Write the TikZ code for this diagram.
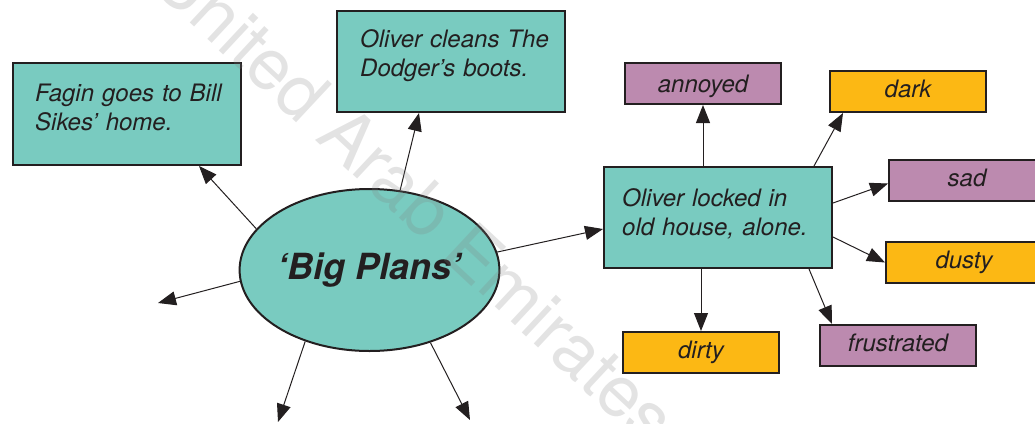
\documentclass[tikz,border=0pt]{standalone}
\usepackage{fontspec}
\setmainfont{TeX Gyre Heros}
\usetikzlibrary{arrows.meta,shapes.geometric}
\definecolor{tealfill}{HTML}{79CBC0}
\definecolor{purpfill}{HTML}{BC8AAF}
\definecolor{orangefill}{HTML}{FCB814}
\definecolor{ink}{HTML}{231F20}
\begin{document}
\begin{tikzpicture}[x=1pt,y=-1pt,
  bigbox/.style={draw=ink,line width=2pt,fill=tealfill,anchor=north west,inner sep=0pt,minimum width=228pt},
  tag/.style={draw=ink,line width=2pt,anchor=north west,inner sep=0pt,minimum width=156pt,minimum height=41pt,
    text height=17pt,text depth=5pt,text=ink,font=\fontsize{24}{29}\selectfont\itshape},
  purptag/.style={tag,fill=purpfill},
  orangetag/.style={tag,fill=orangefill},
  lbl/.style={anchor=base west,inner sep=0pt,text width=205pt,align=left,text=ink,font=\fontsize{24}{29}\selectfont\itshape},
  arr/.style={draw=ink,line width=1pt,-{Triangle[length=18pt,width=14pt]}}
]
\useasboundingbox (0,0) rectangle (1035,423);
\clip (0,0) rectangle (1035,423);

% main boxes
\node[bigbox,minimum height=102pt] (fagin) at (12,62) {};
\node[lbl] (fagintext) at (35,101.7) {Fagin goes to Bill\\Sikes’ home.};
\node[bigbox,minimum height=101pt] (cleans) at (336,10) {};
\node[lbl] (cleanstext) at (360,47) {Oliver cleans The\\Dodger’s boots.};
\node[bigbox,minimum height=101pt] (lock) at (603,166) {};
\node[lbl] (locktext) at (622,206.7) {Oliver locked in\\old house, alone.};

% central ellipse
\node[ellipse,draw=ink,line width=2pt,fill=tealfill,minimum width=253pt,minimum height=162pt,inner sep=0pt,
  text=ink,font=\fontsize{36}{40}\selectfont\bfseries\itshape] (big) at (369.5,270) {‘Big Plans’};

% small tags
\node[purptag,text height=18pt,text depth=0pt] (annoyed) at (624,62) {annoyed};
\node[orangetag] (dark) at (829,70) {dark};
\node[purptag] (sad) at (888,159) {sad};
\node[orangetag] (dusty) at (885,241) {dusty};
\node[orangetag] (dirty) at (622,331) {dirty};
\node[purptag] (frus) at (819,324) {frustrated};

% free ends
\coordinate (fl) at (158,303);
\coordinate (fbl) at (278,422);
\coordinate (fbr) at (470,420);

% connectors from the ellipse
\draw[arr] (big.160) -- ([xshift=72pt]fagin.south);
\draw[arr] (big.69) -- ([xshift=-32pt]cleans.south);
\draw[arr] (big.8.3) -- ([yshift=-11.5pt]lock.west);
\draw[arr] (big.185.4) -- (fl);
\draw[arr] (big.228.5) -- (fbl);
\draw[arr] (big.310) -- (fbr);

% connectors from the locked box
\draw[arr] (annoyed.south |- lock.north) -- (annoyed.south);
\draw[arr] ([xshift=96pt]lock.north) -- ([xshift=-65pt]dark.south);
\draw[arr] ([yshift=14.5pt]lock.east) -- ([yshift=-3pt]sad.west);
\draw[arr] ([yshift=-19.5pt]lock.east) -- (dusty.west);
\draw[arr] (dirty.north |- lock.south) -- (dirty.north);
\draw[arr] ([xshift=91pt]lock.south) -- ([xshift=-66pt]frus.north);

% watermark
\node[rotate=-43,text=gray,opacity=0.22,inner sep=0pt,font=\fontsize{72}{80}\selectfont] (wm) at (415,198) {United Arab Emirates};
\end{tikzpicture}
\end{document}
